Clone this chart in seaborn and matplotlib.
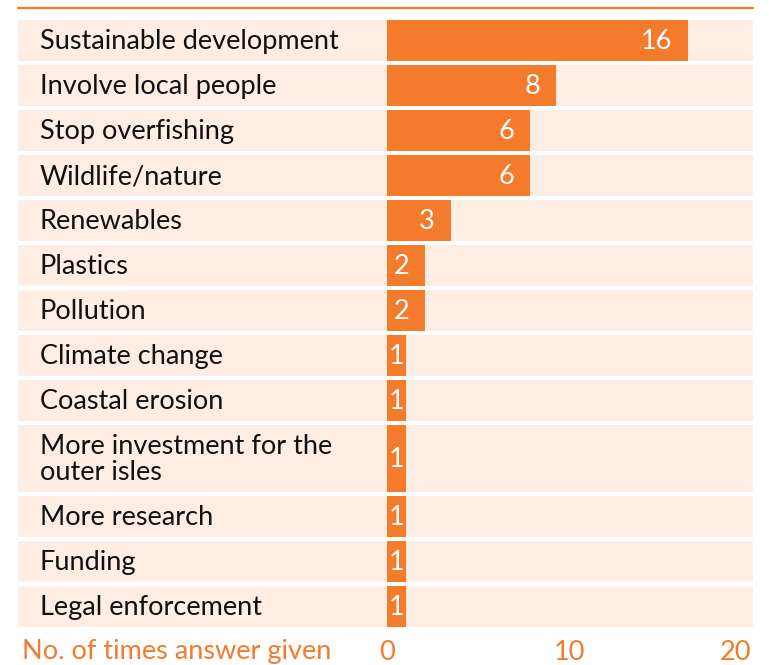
import matplotlib
matplotlib.use("Agg")
import matplotlib.pyplot as plt
from matplotlib.lines import Line2D
from matplotlib.patches import Rectangle
from matplotlib.transforms import blended_transform_factory
import seaborn as sns
import pandas as pd
import numpy as np

# ---------------- data ----------------
categories = [
    "Sustainable development",
    "Involve local people",
    "Stop overfishing",
    "Wildlife/nature",
    "Renewables",
    "Plastics",
    "Pollution",
    "Climate change",
    "Coastal erosion",
    "More investment for the\nouter isles",
    "More research",
    "Funding",
    "Legal enforcement",
]
# value printed on each bar
counts = [16, 8, 6, 6, 3, 2, 2, 1, 1, 1, 1, 1, 1]
# bar length
bar_lengths = [16.54, 9.29, 7.86, 7.86, 3.52, 2.09, 2.09, 1.04, 1.04, 1.04, 1.04, 1.04, 1.04]
x_ticks = [0, 10, 20]
x_tick_labels = ["0", "10", "20"]
x_title = "No. of times answer given"

# ---------------- style ----------------
ORANGE = "#F47B2B"
PEACH = "#FDEDE2"
TEXT = "#111111"

sns.set_theme(style="white")
plt.rcParams["font.family"] = ["Lato", "DejaVu Sans"]

W, H, DPI = 769, 665, 100
FS = 19.5

# row layout in pixels (layout only)
row_h = [41] * 9 + [67] + [41] * 3
gap = 4
tops = np.concatenate([[0], np.cumsum(np.array(row_h[:-1]) + gap)])
centers = tops + np.array(row_h) / 2
total_h = tops[-1] + row_h[-1]

fig = plt.figure(figsize=(W / DPI, H / DPI), dpi=DPI)
fig.patch.set_facecolor("white")

ax_left, ax_right = 387, 751
ax_top = 20
ax_bottom = ax_top + total_h
ax = fig.add_axes([ax_left / W, (H - ax_bottom) / H, (ax_right - ax_left) / W, total_h / H])
ax.set_facecolor("none")

df = pd.DataFrame({"category": categories, "length": bar_lengths, "count": counts, "pos": centers})
sns.barplot(data=df, x="length", y="pos", orient="y", native_scale=True,
            color=ORANGE, saturation=1, width=41 / 45, ax=ax, zorder=2,
            edgecolor="none", linewidth=0, errorbar=None)
bars = list(ax.patches)

# tall row needs its own height
for p, t, h in zip(bars, tops, row_h):
    p.set_y(t)
    p.set_height(h)

# background rows
trans_fx = blended_transform_factory(fig.transFigure, ax.transData)
for t, h in zip(tops, row_h):
    ax.add_patch(Rectangle((18 / W, t), (753 - 18) / W, h, transform=trans_fx,
                           facecolor=PEACH, edgecolor="none", clip_on=False, zorder=0))

ax.set_xlim(0, 20)
ax.set_ylim(total_h, 0)

# category labels
for c, y in zip(categories, centers):
    ax.text(40 / W, y + 1, c, transform=trans_fx, ha="left", va="center",
            fontsize=FS, color=TEXT, clip_on=False, linespacing=1.0)

# value labels
px_per_unit = (ax_right - ax_left) / 20
for n, L, y in zip(counts, bar_lengths, centers):
    if L * px_per_unit < 30:
        ax.annotate(str(n), xy=(L / 2, y + 1), ha="center", va="center",
                    fontsize=FS, color="white", zorder=3)
    else:
        ax.annotate(str(n), xy=(L, y + 1), xytext=(-16, 0), textcoords="offset pixels",
                    ha="right", va="center", fontsize=FS, color="white", zorder=3)

# axes
ax.set_xticks(x_ticks)
ax.set_xticklabels(x_tick_labels)
ax.set_yticks([])
ax.set_xlabel("")
ax.set_ylabel("")
ax.tick_params(axis="x", length=0, pad=9, labelsize=FS, labelcolor=ORANGE)
ax.get_xticklabels()[-1].set_ha("right")
for s in ax.spines.values():
    s.set_visible(False)
ax.grid(False)

fig.text(22 / W, (H - 652) / H, x_title, ha="left", va="center",
         fontsize=FS, color=ORANGE)

# top rule
fig.add_artist(Line2D([18 / W, 753 / W], [(H - 7.5) / H] * 2, color=ORANGE, lw=1.7))

fig.savefig("out.png", dpi=DPI, facecolor="white")
